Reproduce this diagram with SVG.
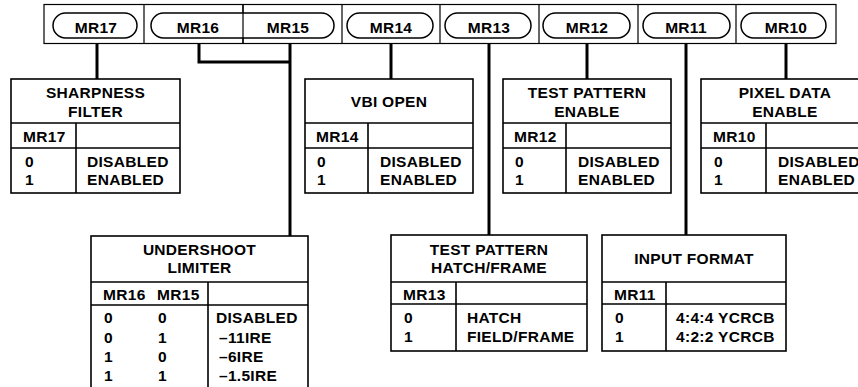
<svg xmlns="http://www.w3.org/2000/svg" width="858" height="387" viewBox="0 0 858 387">
<style>
text{font-family:"Liberation Sans",Arial,Helvetica,sans-serif;font-weight:bold;font-size:15.5px;fill:#000;letter-spacing:0.3px}
.c{text-anchor:middle}
.box{fill:#fff;stroke:#000;stroke-width:1.6}
.ln{stroke:#000;stroke-width:1.6;fill:none}
.pill{fill:#fff;stroke:#000;stroke-width:1.5}
.con{stroke:#000;stroke-width:3;fill:none}
</style>
<rect width="858" height="387" fill="#fff"/>
<g id="register">
<rect x="44" y="4.5" width="792" height="39" fill="#fff" stroke="#000" stroke-width="1.2"/>
<path class="ln" style="stroke-width:1.2" d="M144 4.5V43.5M243 4.5V43.5M342 4.5V43.5M440 4.5V43.5M539 4.5V43.5M638 4.5V43.5M736 4.5V43.5"/>
<rect class="pill" x="53" y="13" width="84" height="25" rx="12.5"/>
<rect class="pill" x="151" y="13" width="183" height="25" rx="12.5"/>
<line x1="243" y1="4.5" x2="243" y2="43.5" stroke="#000" stroke-width="1.2"/>
<rect class="pill" x="347" y="13" width="86" height="25" rx="12.5"/>
<rect class="pill" x="445" y="13" width="86" height="25" rx="12.5"/>
<rect class="pill" x="543" y="13" width="87" height="25" rx="12.5"/>
<rect class="pill" x="643" y="13" width="87" height="25" rx="12.5"/>
<rect class="pill" x="741" y="13" width="85" height="25" rx="12.5"/>
<text class="c" x="96" y="33">MR17</text>
<text class="c" x="198" y="33">MR16</text>
<text class="c" x="288" y="33">MR15</text>
<text class="c" x="391" y="33">MR14</text>
<text class="c" x="489" y="33">MR13</text>
<text class="c" x="587" y="33">MR12</text>
<text class="c" x="686" y="33">MR11</text>
<text class="c" x="786" y="33">MR10</text>
</g>
<g id="connectors">
<path class="con" d="M97 44V79"/>
<path class="con" d="M199 44V62H290"/>
<path class="con" d="M290 44V236"/>
<path class="con" d="M391 44V79"/>
<path class="con" d="M489 44V235"/>
<path class="con" d="M587 44V79"/>
<path class="con" d="M686 44V235"/>
<path class="con" d="M786 44V79"/>
</g>
<g id="sharpness">
<rect class="box" x="11" y="79" width="169" height="114"/>
<path class="ln" d="M11 123H180M11 148H180M76 123V193"/>
<text class="c" x="95.5" y="98">SHARPNESS</text>
<text class="c" x="95.5" y="117">FILTER</text>
<text x="23" y="142">MR17</text>
<text x="25" y="167">0</text>
<text x="25" y="185">1</text>
<text x="87" y="167">DISABLED</text>
<text x="87" y="185">ENABLED</text>
</g>
<g id="vbi">
<rect class="box" x="305" y="79" width="168" height="114"/>
<path class="ln" d="M305 123H473M305 148H473M368 123V193"/>
<text class="c" x="389" y="107">VBI OPEN</text>
<text x="316" y="142">MR14</text>
<text x="317" y="167">0</text>
<text x="317" y="185">1</text>
<text x="380" y="167">DISABLED</text>
<text x="380" y="185">ENABLED</text>
</g>
<g id="tpenable">
<rect class="box" x="503" y="79" width="168" height="114"/>
<path class="ln" d="M503 123H671M503 148H671M566 123V193"/>
<text class="c" x="587" y="98">TEST PATTERN</text>
<text class="c" x="587" y="117">ENABLE</text>
<text x="514" y="142">MR12</text>
<text x="515" y="167">0</text>
<text x="515" y="185">1</text>
<text x="578" y="167">DISABLED</text>
<text x="578" y="185">ENABLED</text>
</g>
<g id="pixeldata">
<rect class="box" x="701" y="79" width="168" height="114"/>
<path class="ln" d="M701 123H869M701 148H869M766 123V193"/>
<text class="c" x="785" y="98">PIXEL DATA</text>
<text class="c" x="785" y="117">ENABLE</text>
<text x="713" y="142">MR10</text>
<text x="714" y="167">0</text>
<text x="714" y="185">1</text>
<text x="778" y="167">DISABLED</text>
<text x="778" y="185">ENABLED</text>
</g>
<g id="undershoot">
<rect class="box" x="91" y="236" width="217" height="160"/>
<path class="ln" d="M91 282H308M91 305H308M208 282V396"/>
<text class="c" x="199.5" y="255">UNDERSHOOT</text>
<text class="c" x="199.5" y="273">LIMITER</text>
<text x="103" y="300">MR16</text>
<text x="157" y="300">MR15</text>
<text x="104" y="323">0</text>
<text x="158" y="323">0</text>
<text x="216" y="323">DISABLED</text>
<text x="104" y="343">0</text>
<text x="158" y="343">1</text>
<text x="219" y="343">–11IRE</text>
<text x="104" y="362">1</text>
<text x="158" y="362">0</text>
<text x="219" y="362">–6IRE</text>
<text x="104" y="381">1</text>
<text x="158" y="381">1</text>
<text x="219" y="381">–1.5IRE</text>
</g>
<g id="hatchframe">
<rect class="box" x="391" y="235" width="196" height="116"/>
<path class="ln" d="M391 282H587M391 304H587M456 282V351"/>
<text class="c" x="489" y="255">TEST PATTERN</text>
<text class="c" x="489" y="273">HATCH/FRAME</text>
<text x="403" y="300">MR13</text>
<text x="404" y="323">0</text>
<text x="404" y="342">1</text>
<text x="467" y="323">HATCH</text>
<text x="467" y="342">FIELD/FRAME</text>
</g>
<g id="inputformat">
<rect class="box" x="602" y="235" width="184" height="116"/>
<path class="ln" d="M602 282H786M602 304H786M666 282V351"/>
<text class="c" x="694" y="264">INPUT FORMAT</text>
<text x="614" y="300">MR11</text>
<text x="615" y="323">0</text>
<text x="615" y="342">1</text>
<text x="676" y="323">4:4:4 YCRCB</text>
<text x="676" y="342">4:2:2 YCRCB</text>
</g>
</svg>
